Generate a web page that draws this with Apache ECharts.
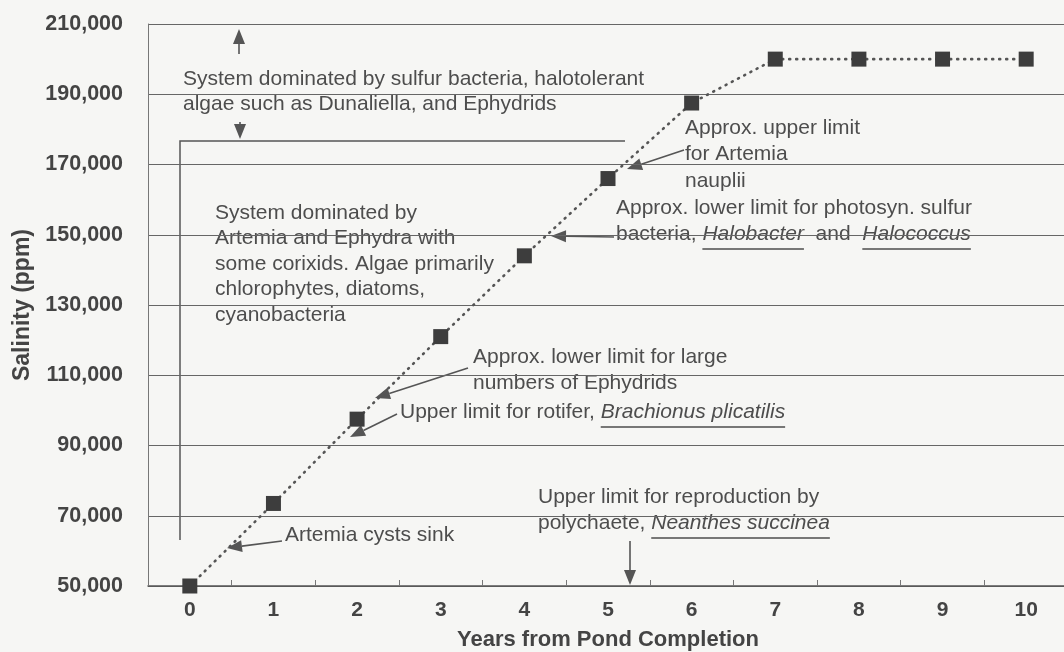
<!DOCTYPE html>
<html>
<head>
<meta charset="utf-8">
<script src="https://cdn.jsdelivr.net/npm/echarts@6.0.0/dist/echarts.min.js"></script>
<style>
  html, body { margin: 0; padding: 0; background: #f6f6f4; }
  #main { width: 1064px; height: 652px; }
</style>
</head>
<body>
<div id="main"></div>
<script>
var years = ['0', '1', '2', '3', '4', '5', '6', '7', '8', '9', '10'];
var salinity = [50000, 73500, 97500, 121000, 144000, 166000, 187500, 200000, 200000, 200000, 200000];
var salinityMin = 50000;
var salinityMax = 210000;
var salinityStep = 20000;

var FONT = '"Liberation Sans", Arial, sans-serif';
var INK = '#4d4d4d';

var chart = echarts.init(document.getElementById('main'));

var measureCtx = document.createElement('canvas').getContext('2d');
function textWidth(str, font) {
  measureCtx.font = font;
  return measureCtx.measureText(str).width;
}

// one line of text, parts given as [text, italicUnderlined]
function textLine(x, y, parts) {
  var out = [];
  var cx = x;
  parts.forEach(function (p) {
    var font = (p[1] ? 'italic ' : '') + '21px ' + FONT;
    var w = textWidth(p[0], font);
    out.push({
      type: 'text', silent: true,
      style: { text: p[0], x: cx, y: y, font: font, fill: INK,
        align: 'left', verticalAlign: 'middle', textAlign: 'left', textVerticalAlign: 'middle' }
    });
    if (p[1]) {
      out.push({
        type: 'line', silent: true,
        shape: { x1: cx, y1: y + 15, x2: cx + w, y2: y + 15 },
        style: { stroke: INK, lineWidth: 1.5 }
      });
    }
    cx += w;
  });
  return out;
}

function block(x, y, gap, lines) {
  var out = [];
  lines.forEach(function (l, i) {
    out = out.concat(textLine(x, y + i * gap, typeof l === 'string' ? [[l, false]] : l));
  });
  return out;
}

// line with a filled head at (x2, y2)
function arrow(x1, y1, x2, y2) {
  var dx = x2 - x1, dy = y2 - y1;
  var len = Math.sqrt(dx * dx + dy * dy);
  var ux = dx / len, uy = dy / len;
  var L = 15, W = 6;
  var bx = x2 - ux * L, by = y2 - uy * L;
  return [
    { type: 'line', silent: true,
      shape: { x1: x1, y1: y1, x2: bx, y2: by },
      style: { stroke: '#555', lineWidth: 1.6 } },
    { type: 'polygon', silent: true,
      shape: { points: [[x2, y2], [bx - uy * W, by + ux * W], [bx + uy * W, by - ux * W]] },
      style: { fill: '#555' } }
  ];
}

var notes = [];
notes = notes.concat(block(183, 79, 25, [
  'System dominated by sulfur bacteria, halotolerant',
  'algae such as Dunaliella, and Ephydrids'
]));
notes = notes.concat(arrow(239, 54, 239, 29));
notes = notes.concat(arrow(240, 122, 240, 139));
notes.push({
  type: 'polyline', silent: true,
  shape: { points: [[625, 141], [180, 141], [180, 540]] },
  style: { stroke: '#555', lineWidth: 1.5, fill: null }
});
notes = notes.concat(block(215, 213, 25.5, [
  'System dominated by',
  'Artemia and Ephydra with',
  'some corixids. Algae primarily',
  'chlorophytes, diatoms,',
  'cyanobacteria'
]));
notes = notes.concat(block(685, 128, 26.5, [
  'Approx. upper limit',
  'for Artemia',
  'nauplii'
]));
notes = notes.concat(arrow(684, 150, 627, 169));
notes = notes.concat(block(616, 208, 26, [
  'Approx. lower limit for photosyn. sulfur',
  [['bacteria, ', false], ['Halobacter', true], ['  and  ', false], ['Halococcus', true]]
]));
notes = notes.concat(arrow(614, 237, 551, 236));
notes = notes.concat(block(473, 357, 26, [
  'Approx. lower limit for large',
  'numbers of Ephydrids'
]));
notes = notes.concat(arrow(468, 368, 375, 398));
notes = notes.concat(textLine(400, 412, [['Upper limit for rotifer, ', false], ['Brachionus plicatilis', true]]));
notes = notes.concat(arrow(397, 414, 350, 437));
notes = notes.concat(textLine(285, 535, [['Artemia cysts sink', false]]));
notes = notes.concat(arrow(282, 541, 227, 548));
notes = notes.concat(block(538, 497, 26, [
  'Upper limit for reproduction by',
  [['polychaete, ', false], ['Neanthes succinea', true]]
]));
notes = notes.concat(arrow(630, 541, 630, 585));

var option = {
  backgroundColor: '#f6f6f4',
  animation: false,
  grid: { left: 148, right: -4, top: 24, bottom: 66, outerBoundsMode: 'none', containLabel: false },
  xAxis: {
    type: 'category',
    data: years,
    boundaryGap: true,
    name: 'Years from Pond Completion',
    nameLocation: 'middle',
    nameGap: 43,
    nameTextStyle: { fontFamily: FONT, fontWeight: 'bold', fontSize: 22, color: '#444' },
    axisLine: { lineStyle: { color: '#555', width: 1.5 } },
    axisTick: { show: true, inside: true, length: 6, lineStyle: { color: '#777' } },
    axisLabel: { fontFamily: FONT, fontWeight: 'bold', fontSize: 21, color: '#444', margin: 14 },
    splitLine: { show: false }
  },
  yAxis: {
    type: 'value',
    min: salinityMin,
    max: salinityMax,
    interval: salinityStep,
    name: 'Salinity (ppm)',
    nameLocation: 'middle',
    nameGap: 113,
    nameTextStyle: { fontFamily: FONT, fontWeight: 'bold', fontSize: 23, color: '#444' },
    axisLine: { show: true, lineStyle: { color: '#777', width: 1 } },
    axisTick: { show: false },
    axisLabel: {
      fontFamily: FONT, fontWeight: 'bold', fontSize: 21.5, color: '#444', margin: 25,
      formatter: function (v) {
        return String(v).replace(/\B(?=(\d{3})+(?!\d))/g, ',');
      }
    },
    splitLine: { lineStyle: { color: '#666', width: 1.2 } }
  },
  series: [
    {
      name: 'Salinity',
      type: 'line',
      data: salinity,
      symbol: 'rect',
      symbolSize: 15,
      itemStyle: { color: '#3d3d3d' },
      lineStyle: { color: '#555', width: 2.6, type: [1, 6], cap: 'round' },
      z: 3
    }
  ],
  graphic: notes
};

chart.setOption(option);
</script>
</body>
</html>
